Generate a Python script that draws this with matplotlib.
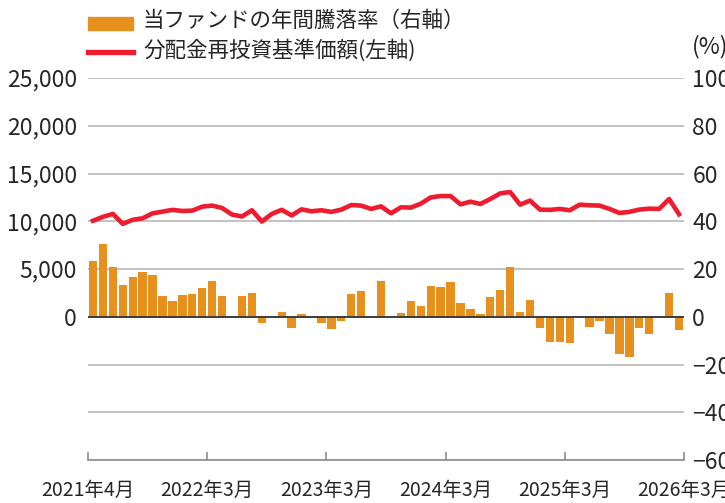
import matplotlib
matplotlib.use("Agg")
import matplotlib.pyplot as plt
from matplotlib.patches import Rectangle
from matplotlib.lines import Line2D
import numpy as np

plt.rcParams['font.family'] = ['Noto Sans CJK JP', 'DejaVu Sans']

# 2021年4月 - 2026年3月 (monthly)
months = [f"{2021 + (m + 3) // 12}-{(m + 3) % 12 + 1:02d}" for m in range(60)]

# 分配金再投資基準価額 (円, left axis)
nav = [10050, 10460, 10770, 9730, 10150, 10310, 10830, 11010, 11190, 11080,
       11110, 11530, 11640, 11390, 10700, 10500, 11150, 9970, 10770, 11200,
       10610, 11250, 11040, 11150, 10980, 11220, 11700, 11640, 11290, 11560,
       10830, 11460, 11430, 11840, 12500, 12640, 12640, 11770, 12050, 11810,
       12330, 12920, 13060, 11740, 12160, 11220, 11190, 11290, 11150, 11740,
       11670, 11640, 11290, 10870, 10980, 11220, 11320, 11290, 12330, 10730]

# 当ファンドの年間騰落率 (%, right axis)
returns = [23.5, 30.6, 21.0, 13.5, 16.8, 18.9, 17.4, 8.8, 6.4, 9.0,
           9.4, 12.2, 15.1, 8.7, -0.7, 8.6, 10.1, -2.6, 0.0, 1.8,
           -4.7, 1.1, -0.4, -2.5, -5.0, -1.9, 9.5, 10.8, 0.0, 14.9,
           0.0, 1.4, 6.8, 4.7, 12.8, 12.4, 14.4, 5.6, 3.1, 1.1,
           8.3, 11.4, 20.7, 2.1, 6.9, -4.7, -10.6, -10.6, -11.1, 0.0,
           -4.3, -1.9, -7.4, -15.7, -16.7, -4.6, -7.2, 0.0, 10.0, -5.4]

xtick_labels = ["2021年4月", "2022年3月", "2023年3月", "2024年3月", "2025年3月", "2026年3月"]
left_ticks = [0, 5000, 10000, 15000, 20000, 25000]
right_ticks = [-60, -40, -20, 0, 20, 40, 60, 80, 100]

bar_color = "#E8901E"
line_color = "#EE1C2E"
text_color = "#262626"
W, H = 725, 503

fig = plt.figure(figsize=(7.25, 5.03), dpi=100)
ax = fig.add_axes([88 / W, 43 / H, 596 / W, 382 / H])
ax2 = ax.twinx()

x = np.arange(len(months))

# bars (right axis) + grid
ax2.bar(x, returns, width=0.84, color=bar_color, zorder=2)
ax2.set_ylim(-60, 100)
ax2.set_yticks(right_ticks)
ax2.grid(axis="y", color="#bdbdbd", lw=1.3)
ax2.set_axisbelow(True)
ax2.axhline(0, color="#333333", lw=1.3, zorder=3)
ax2.tick_params(axis="y", length=0, pad=6, labelsize=16.5, labelcolor=text_color)

# line (left axis)
ax.plot(x, nav, color=line_color, lw=3.3, zorder=4)
ax.set_zorder(ax2.get_zorder() + 1)
ax.patch.set_visible(False)
ax.set_xlim(-0.5, len(months) - 0.5)
ax.set_ylim(-15000, 25000)
ax.set_yticks(left_ticks)
ax.set_yticklabels([f"{v:,}" for v in left_ticks])
ax.tick_params(axis="y", length=0, pad=8, labelsize=16.5, labelcolor=text_color)

ax.set_xticks(np.arange(-0.5, len(months), 12))
ax.set_xticklabels(xtick_labels)
ax.tick_params(axis="x", direction="in", length=6, width=1.2, color="#8c8c8c",
               pad=14, labelsize=14, labelcolor=text_color)

for a in (ax, ax2):
    for s in ("top", "left", "right"):
        a.spines[s].set_visible(False)
ax2.spines["bottom"].set_visible(False)
ax.spines["bottom"].set_color("#8c8c8c")
ax.spines["bottom"].set_linewidth(1.2)

# legend
fig.add_artist(Rectangle((88 / W, 1 - 30 / H), 45 / W, 13 / H,
                         transform=fig.transFigure, color=bar_color))
fig.add_artist(Line2D([88 / W, 133 / W], [1 - 51.5 / H] * 2,
                      transform=fig.transFigure, color=line_color, lw=3.8))
fig.text(143 / W, 1 - 21 / H, "当ファンドの年間騰落率（右軸）", va="center",
         fontsize=15.5, color=text_color)
fig.text(143 / W, 1 - 50 / H, "分配金再投資基準価額(左軸)", va="center",
         fontsize=15.5, color=text_color)
fig.text(692 / W, 1 - 47 / H, "(%)", va="center", ha="left",
         fontsize=16.5, color=text_color)

fig.savefig("out.png", dpi=100)
